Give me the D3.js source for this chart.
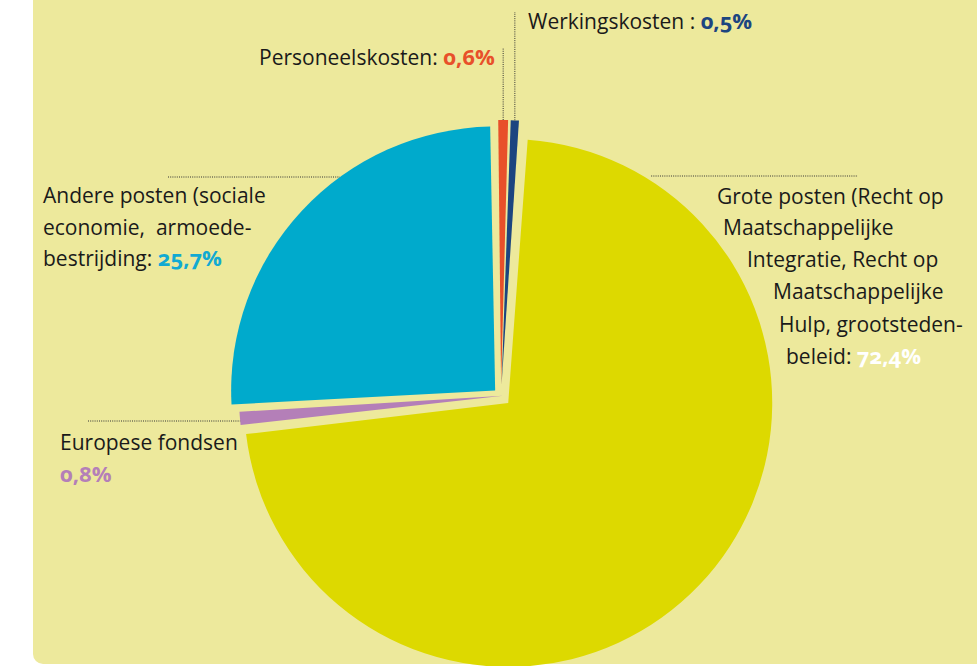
<!DOCTYPE html>
<html><head><meta charset="utf-8">
<script src="https://cdn.jsdelivr.net/npm/d3@7"></script>
<style>
html,body{margin:0;padding:0;background:#fff;}
svg{display:block;}
text{font-family:"Open Sans","Lato",sans-serif;white-space:pre;}
.pct{font-weight:700;font-size:22px;font-variant-numeric:oldstyle-nums;font-feature-settings:"onum" 1;}
</style></head>
<body>
<svg id="chart" width="977" height="666"></svg>
<script>
// ---- data ----
const categories = ["Grote posten", "Europese fondsen", "Andere posten", "Personeelskosten", "Werkingskosten"];
const values = [72.4, 0.8, 25.7, 0.6, 0.5];
const valueLabels = ["72,4%", "0,8%", "25,7%", "0,6%", "0,5%"];
const labelLines = [
  ["Grote posten (Recht op", "Maatschappelijke", "Integratie, Recht op", "Maatschappelijke", "Hulp, grootsteden-", "beleid: "],
  ["Europese fondsen", ""],
  ["Andere posten (sociale", "economie,  armoede-", "bestrijding: "],
  ["Personeelskosten: "],
  ["Werkingskosten : "]
];

// ---- styles / layout ----
const colors = ["#DDD900", "#B47FB8", "#00AACC", "#E8502A", "#1C4580"];
const pctColors = ["#FFFFFF", "#B47FB8", "#12AAD2", "#E8502A", "#1C4580"];
const explode = [10, -2, 8, 12, 12];
const labelX = [[717, 723, 747, 773, 779, 786], [60, 60], [43, 43, 43], [259], [528]];
const labelY = [[204, 235, 267, 299, 332, 364], [450, 482], [203, 235, 266], [65], [29]];
const cx = 501, cy = 396, R = 264;
const startDeg = 4.0;

const svg = d3.select("#chart");
svg.append("rect").attr("x", 33).attr("y", -20).attr("width", 980).attr("height", 684)
  .attr("rx", 10).attr("fill", "#EDE99C");

const pie = d3.pie().sort(null).value(d => d)
  .startAngle(startDeg * Math.PI / 180)
  .endAngle(startDeg * Math.PI / 180 + 2 * Math.PI)
  .padAngle(0.008);
const arcs = pie(values);
const arc = d3.arc().innerRadius(0).outerRadius(R);

function offset(d, i) {
  const m = (d.startAngle + d.endAngle) / 2;
  return [Math.sin(m) * explode[i], -Math.cos(m) * explode[i]];
}

const g = svg.append("g").attr("transform", `translate(${cx},${cy})`);
g.selectAll("path").data(arcs).join("path")
  .attr("d", arc)
  .attr("fill", (d, i) => colors[i])
  .attr("transform", (d, i) => { const o = offset(d, i); return `translate(${o[0]},${o[1]})`; });

// leader lines
function circleX(i, y, side) {
  const o = offset(arcs[i], i);
  const dy = y - (cy + o[1]);
  return cx + o[0] + side * Math.sqrt(R * R - dy * dy);
}
function topPoint(i) {
  const d = arcs[i], o = offset(d, i);
  const m = (d.startAngle + d.endAngle) / 2;
  return [cx + o[0] + Math.sin(m) * R, cy + o[1] - Math.cos(m) * R];
}
const leaders = [];
leaders.push([[circleX(0, 176, 1) + 8, 176], [858, 176]]);
leaders.push([[88, 421], [circleX(1, 421, -1), 421]]);
leaders.push([[168, 177], [circleX(2, 177, -1), 177]]);
const pr = topPoint(3); leaders.push([[pr[0], pr[1]], [pr[0], 48]]);
const pn = topPoint(4); leaders.push([[pn[0], pn[1]], [pn[0], 12]]);
svg.selectAll("line.leader").data(leaders).join("line").attr("class", "leader")
  .attr("x1", d => d[0][0]).attr("y1", d => d[0][1])
  .attr("x2", d => d[1][0]).attr("y2", d => d[1][1])
  .attr("stroke", "#333").attr("stroke-width", 1).attr("stroke-dasharray", "1,1.2");

// labels
labelLines.forEach((lines, i) => {
  lines.forEach((ln, j) => {
    const t = svg.append("text").attr("x", labelX[i][j]).attr("y", labelY[i][j])
      .attr("font-size", 21).attr("fill", "#1a1a1a");
    t.append("tspan").text(ln);
    if (j === lines.length - 1) {
      t.append("tspan").attr("class", "pct").attr("fill", pctColors[i]).text(valueLabels[i]);
    }
  });
});
</script>
</body></html>
